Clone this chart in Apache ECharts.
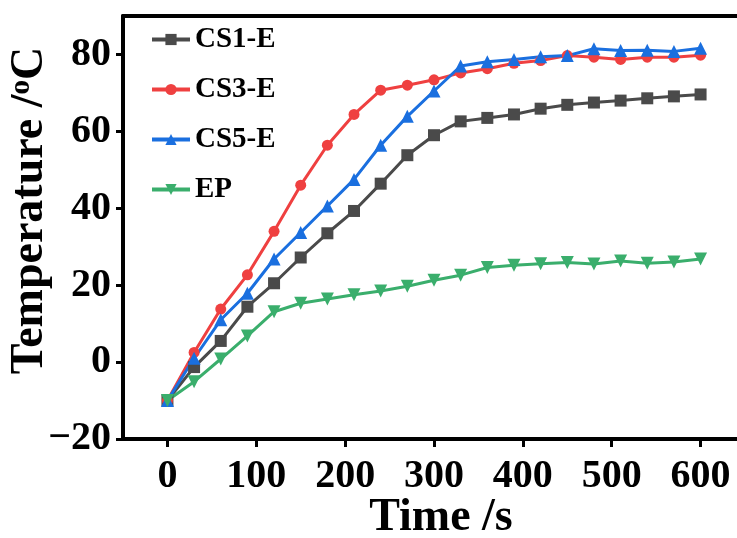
<!DOCTYPE html>
<html>
<head>
<meta charset="utf-8">
<title>Temperature vs Time</title>
<script src="https://cdn.jsdelivr.net/npm/echarts@6/dist/echarts.min.js"></script>
<style>
  html, body { margin: 0; padding: 0; background: #fff; }
  #chart { width: 737px; height: 538px; }
</style>
</head>
<body>
<div id="chart"></div>
<script>
// ---- data ----
var times = [0, 30, 60, 90, 120, 150, 180, 210, 240, 270, 300, 330, 360, 390, 420, 450, 480, 510, 540, 570, 600];
var cs1 = [-10, -1.3, 5.5, 14.4, 20.5, 27.2, 33.5, 39.3, 46.4, 53.8, 59.0, 62.6, 63.5, 64.4, 65.9, 66.9, 67.5, 68.0, 68.6, 69.1, 69.6];
var cs3 = [-10, 2.5, 13.8, 22.7, 34.0, 46.0, 56.4, 64.4, 70.7, 72.0, 73.4, 75.2, 76.3, 77.7, 78.4, 79.7, 79.3, 78.7, 79.3, 79.3, 79.8];
var cs5 = [-10, 1.0, 11.0, 17.9, 26.8, 33.7, 40.6, 47.5, 56.4, 63.9, 70.5, 77.0, 78.1, 78.7, 79.4, 79.7, 81.5, 81.0, 81.1, 80.8, 81.6];
var ep = [-10, -5.1, 0.8, 6.8, 13.1, 15.3, 16.4, 17.5, 18.5, 19.7, 21.3, 22.6, 24.6, 25.2, 25.6, 25.9, 25.5, 26.3, 25.7, 26.0, 26.8];
var xTicks = [0, 100, 200, 300, 400, 500, 600];
var yTicks = [-20, 0, 20, 40, 60, 80];

var FONT = '"Liberation Serif", "Times New Roman", serif';

function pairs(ys) {
    return times.map(function (t, i) { return [t, ys[i]]; });
}

function lineSeries(name, ys, color, symbol, size, rotate) {
    return {
        name: name,
        type: 'line',
        data: pairs(ys),
        symbol: symbol,
        symbolSize: size,
        symbolRotate: rotate || 0,
        lineStyle: { color: color, width: 3 },
        itemStyle: { color: color },
        emphasis: { disabled: true }
    };
}

var chart = echarts.init(document.getElementById('chart'));

chart.setOption({
    animation: false,
    backgroundColor: '#fff',
    grid: { left: 123, right: 0, top: 16, bottom: 99, containLabel: false, outerBoundsMode: 'none' },
    legend: {
        orient: 'vertical',
        left: 145,
        top: 20,
        itemWidth: 38,
        itemHeight: 14,
        itemGap: 21,
        lineStyle: { width: 4 },
        textStyle: { fontFamily: FONT, fontWeight: 'bold', fontSize: 29, color: '#000' },
        data: ['CS1-E', 'CS3-E', 'CS5-E', 'EP']
    },
    xAxis: [{
        type: 'value',
        min: -50,
        max: 641,
        name: 'Time /s',
        nameLocation: 'middle',
        nameGap: 56,
        nameMoveOverlap: false,
        nameTextStyle: {
            fontFamily: FONT, fontWeight: 'bold', fontSize: 46, color: '#000',
            padding: [0, 0, 0, 22]
        },
        axisLine: { onZero: false, lineStyle: { color: '#000', width: 4 } },
        axisTick: { customValues: xTicks, length: 8, lineStyle: { color: '#000', width: 3 } },
        axisLabel: { customValues: xTicks, margin: 18, fontFamily: FONT, fontWeight: 'bold', fontSize: 40, color: '#000' },
        splitLine: { show: false }
    }, {
        type: 'value',
        position: 'top',
        min: -50,
        max: 641,
        axisLine: { show: true, onZero: false, lineStyle: { color: '#000', width: 4 } },
        axisTick: { show: false },
        axisLabel: { show: false },
        splitLine: { show: false }
    }],
    yAxis: {
        type: 'value',
        min: -20,
        max: 90,
        name: 'Temperature /{s|o}C',
        nameLocation: 'middle',
        nameGap: 70,
        nameMoveOverlap: false,
        nameTextStyle: {
            fontFamily: FONT, fontWeight: 'bold', fontSize: 46, color: '#000',
            padding: [0, 0, 0, 34],
            rich: {
                s: { fontFamily: FONT, fontWeight: 'bold', fontSize: 29, color: '#000', verticalAlign: 'top' }
            }
        },
        axisLine: { show: true, onZero: false, lineStyle: { color: '#000', width: 4 } },
        axisTick: { show: true, customValues: yTicks, length: 7, lineStyle: { color: '#000', width: 3 } },
        axisLabel: {
            customValues: yTicks, margin: 12, fontFamily: FONT, fontWeight: 'bold', fontSize: 40, color: '#000',
            formatter: function (v) { return v < 0 ? '\u2212' + Math.abs(v) : String(v); }
        },
        splitLine: { show: false }
    },
    series: [
        lineSeries('CS1-E', cs1, '#4a4a4a', 'rect', 12),
        lineSeries('CS3-E', cs3, '#ef4040', 'circle', 11),
        lineSeries('CS5-E', cs5, '#1a6fdf', 'triangle', 13),
        lineSeries('EP', ep, '#3aae6c', 'triangle', 13, 180)
    ]
});
</script>
</body>
</html>
